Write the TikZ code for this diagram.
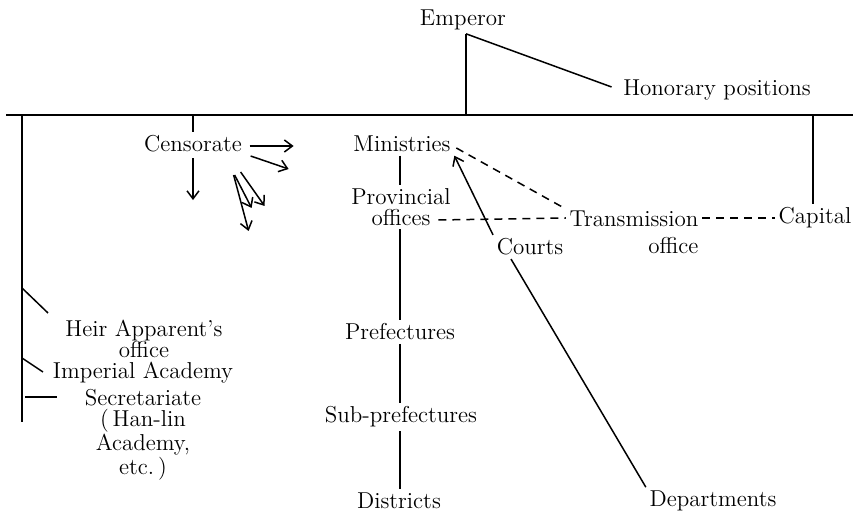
\documentclass[tikz,border=0pt]{standalone}
\usepackage{tikz}
\usetikzlibrary{arrows.meta}

\tikzset{
  lbl/.style={inner sep=1.5pt, align=center, font=\fontsize{11.5}{10.5}\selectfont},
  arr/.style={-{Straight Barb[length=4pt,width=6pt]}},
  dsh/.style={dash pattern=on 4pt off 3pt},
}

\begin{document}
\begin{tikzpicture}[x=0.5pt,y=-0.5pt,line width=0.75pt]
\useasboundingbox (0,0) rectangle (853,512);

\coordinate (barL) at (6,115);
\coordinate (barR) at (853,115);
\coordinate (lftE) at (22,422);
\coordinate (midL) at (400,115);

\node[lbl](emp) at (463,20){Emperor};
\node[lbl](hon) at (717,90){Honorary positions};
\node[lbl](cen) at (193,144){Censorate};
\node[lbl](min) at (402,144){Ministries};
\node[lbl](prov) at (401,207){Provincial\\offices};
\node[lbl,align=right](trans) at (634,232){Transmission\\[3pt]office};
\node[lbl](cap) at (815,218){Capital};
\node[lbl](courts) at (530,247){Courts};
\node[lbl](pref) at (400,332){Prefectures};
\node[lbl](sub) at (401,417){Sub-prefectures};
\node[lbl](dist) at (399,501){Districts};
\node[lbl](dep) at (713,501){Departments};
\node[lbl](heir) at (144,339){Heir Apparent's\\office};
\node[lbl](imp) at (143,373){Imperial Academy};
\node[lbl](sec) at (143,435){Secretariate\\(\,Han-lin\\Academy,\\etc.\,)};

% top of the chart
\draw (barL) -- (barR);
\draw ([xshift=1.5pt]emp.south) -- ([xshift=1.5pt]emp.south |- barL);
\draw ([xshift=1.5pt]emp.south) -- ([xshift=-4pt,yshift=1.5pt]hon.west);
\draw (cen.north |- barL) -- (cen.north);
\draw ([xshift=-1pt]cap.north |- barL) -- ([xshift=-1pt]cap.north);

% left side
\draw (barL -| lftE) -- (lftE);
\draw (22,288) -- (48,313);
\draw (22,358) -- (43,372);
\draw (25,397) -- (57,397);

% censorate
\draw[arr] (cen.east) ++(4,2) -- ++(44,0);
\draw[arr] (cen.east) ++(5,12) -- ++(38,13);
\draw[arr] (cen.east) ++(-12,31) -- ++(15,56);
\draw[arr] (cen.east) ++(-11,31) -- ++(17,33);
\draw[arr] (cen.east) ++(-5,28) -- ++(24,34);
\draw[arr] (cen.south) ++(0,2) -- ++(0,42);

% provinces
\draw (midL |- min.south) -- (midL |- prov.north);
\draw (midL |- prov.south) -- (midL |- pref.north);
\draw (midL |- pref.south) -- (midL |- sub.north);
\draw (midL |- sub.south) -- (midL |- dist.north);

% transmission
\draw[dsh] ([xshift=1pt,yshift=-2pt]min.east) -- ([xshift=-2pt]trans.north west);
\draw[dsh] ([xshift=-8pt,yshift=-6.5pt]prov.east) -- ([yshift=7pt]trans.west);
\draw[dsh] ([yshift=7pt]trans.east) -- (cap.west);

% courts
\draw[arr] (courts.north west) -- (min.south east);
\draw (dep.north west) -- ([xshift=9pt]courts.south west);
\end{tikzpicture}
\end{document}
